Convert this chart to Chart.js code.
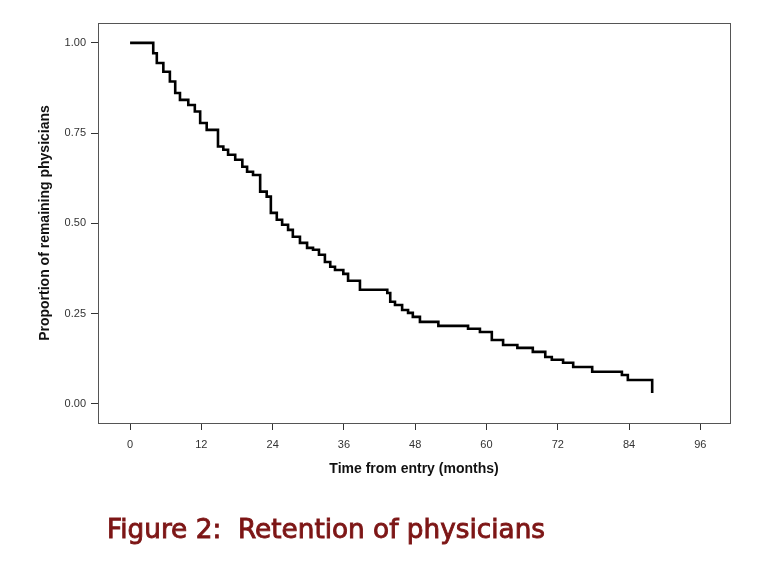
<!DOCTYPE html>
<html>
<head>
<meta charset="utf-8">
<script src="https://cdn.jsdelivr.net/npm/chart.js@4"></script>
<style>
  html, body { margin: 0; padding: 0; background: #fff; }
  #wrap { position: relative; width: 768px; height: 564px; }
  #caption { position: absolute; left: 107px; top: 516px; white-space: pre;
    font-family: "DejaVu Sans", sans-serif; font-weight: normal;
    -webkit-text-stroke: 0.9px #7d1616;
    color: #7d1616; font-size: 26px; line-height: 1; }
</style>
</head>
<body>
<div id="wrap">
  <canvas id="c" width="768" height="564"></canvas>
  <div id="caption">Figure 2:  Retention of physicians</div>
</div>
<script>
// Kaplan-Meier step curve (time in months, proportion remaining)
const months = [0, 3.9, 4.5, 5.6, 6.7, 7.6, 8.4, 9.8, 10.9, 11.8, 12.9, 14.8, 15.7, 16.5, 17.7, 18.9, 19.7, 20.7,
  21.9, 23.0, 23.7, 24.7, 25.6, 26.6, 27.4, 28.6, 29.8, 30.8, 31.8, 32.8, 33.7, 34.5, 35.9, 36.7, 38.7,
  43.3, 43.8, 44.6, 45.8, 46.8, 47.6, 48.8, 51.9, 56.9, 58.9, 60.9, 62.8, 65.2, 67.8, 69.9, 71.0, 72.9,
  74.6, 77.8, 82.8, 83.8, 87.9];
const survival = [1.000, 0.971, 0.944, 0.920, 0.893, 0.861, 0.842, 0.828, 0.810, 0.778, 0.759, 0.713, 0.704, 0.690, 0.676, 0.657, 0.643, 0.634,
  0.588, 0.574, 0.529, 0.510, 0.496, 0.482, 0.463, 0.446, 0.432, 0.427, 0.413, 0.393, 0.380, 0.371, 0.360, 0.341, 0.316,
  0.307, 0.283, 0.274, 0.260, 0.252, 0.241, 0.227, 0.216, 0.208, 0.199, 0.177, 0.163, 0.155, 0.144, 0.130, 0.122, 0.114,
  0.102, 0.089, 0.080, 0.066, 0.030];
const xTicks = [0, 12, 24, 36, 48, 60, 72, 84, 96];
const yTicks = [0, 0.25, 0.5, 0.75, 1.0];

const points = months.map((m, i) => ({ x: m, y: survival[i] }));

const framePlugin = {
  id: 'frame',
  afterDraw(chart) {
    const a = chart.chartArea, ctx = chart.ctx;
    ctx.save();
    ctx.strokeStyle = '#555';
    ctx.lineWidth = 1;
    ctx.strokeRect(Math.round(a.left) + 0.5, Math.round(a.top) + 0.5,
      Math.round(a.right - a.left), Math.round(a.bottom - a.top));
    ctx.restore();
  }
};

new Chart(document.getElementById('c'), {
  type: 'line',
  data: {
    datasets: [{
      data: points,
      stepped: true,
      borderColor: '#000',
      borderWidth: 2.6,
      pointRadius: 0,
      fill: false
    }]
  },
  options: {
    responsive: false,
    animation: false,
    devicePixelRatio: 1,
    layout: { padding: { left: 0, right: 38, top: 23, bottom: 85 } },
    plugins: { legend: { display: false }, tooltip: { enabled: false } },
    scales: {
      x: {
        type: 'linear',
        min: -5.4, max: 101,
        afterBuildTicks: s => { s.ticks = xTicks.map(v => ({ value: v })); },
        afterFit: s => { s.height = 56; },
        grid: { drawOnChartArea: false, drawTicks: true, tickLength: 7, color: '#333' },
        border: { color: '#333' },
        ticks: { autoSkip: false, maxRotation: 0, padding: 8, color: '#333',
          font: { family: 'Liberation Sans, Arial, sans-serif', size: 11 } },
        title: { display: true, text: 'Time from entry (months)', color: '#111',
          padding: { top: 0, bottom: 1 },
          font: { family: 'Liberation Sans, Arial, sans-serif', size: 14, weight: 'bold' } }
      },
      y: {
        min: -0.053, max: 1.055,
        afterBuildTicks: s => { s.ticks = yTicks.map(v => ({ value: v })); },
        afterFit: s => { s.width = 98; },
        grid: { drawOnChartArea: false, drawTicks: true, tickLength: 7, color: '#333' },
        border: { color: '#333' },
        ticks: { padding: 5, color: '#333', callback: v => Number(v).toFixed(2),
          font: { family: 'Liberation Sans, Arial, sans-serif', size: 11 } },
        title: { display: true, text: 'Proportion of remaining physicians', color: '#111',
          padding: { top: 37, bottom: 0 },
          font: { family: 'Liberation Sans, Arial, sans-serif', size: 14, weight: 'bold' } }
      }
    }
  },
  plugins: [framePlugin]
});

// fit caption width to the reference (~438px)
(function () {
  const cap = document.getElementById('caption');
  const w = cap.getBoundingClientRect().width;
  if (w > 0) cap.style.fontSize = (26 * 438 / w).toFixed(2) + 'px';
})();
</script>
</body>
</html>
